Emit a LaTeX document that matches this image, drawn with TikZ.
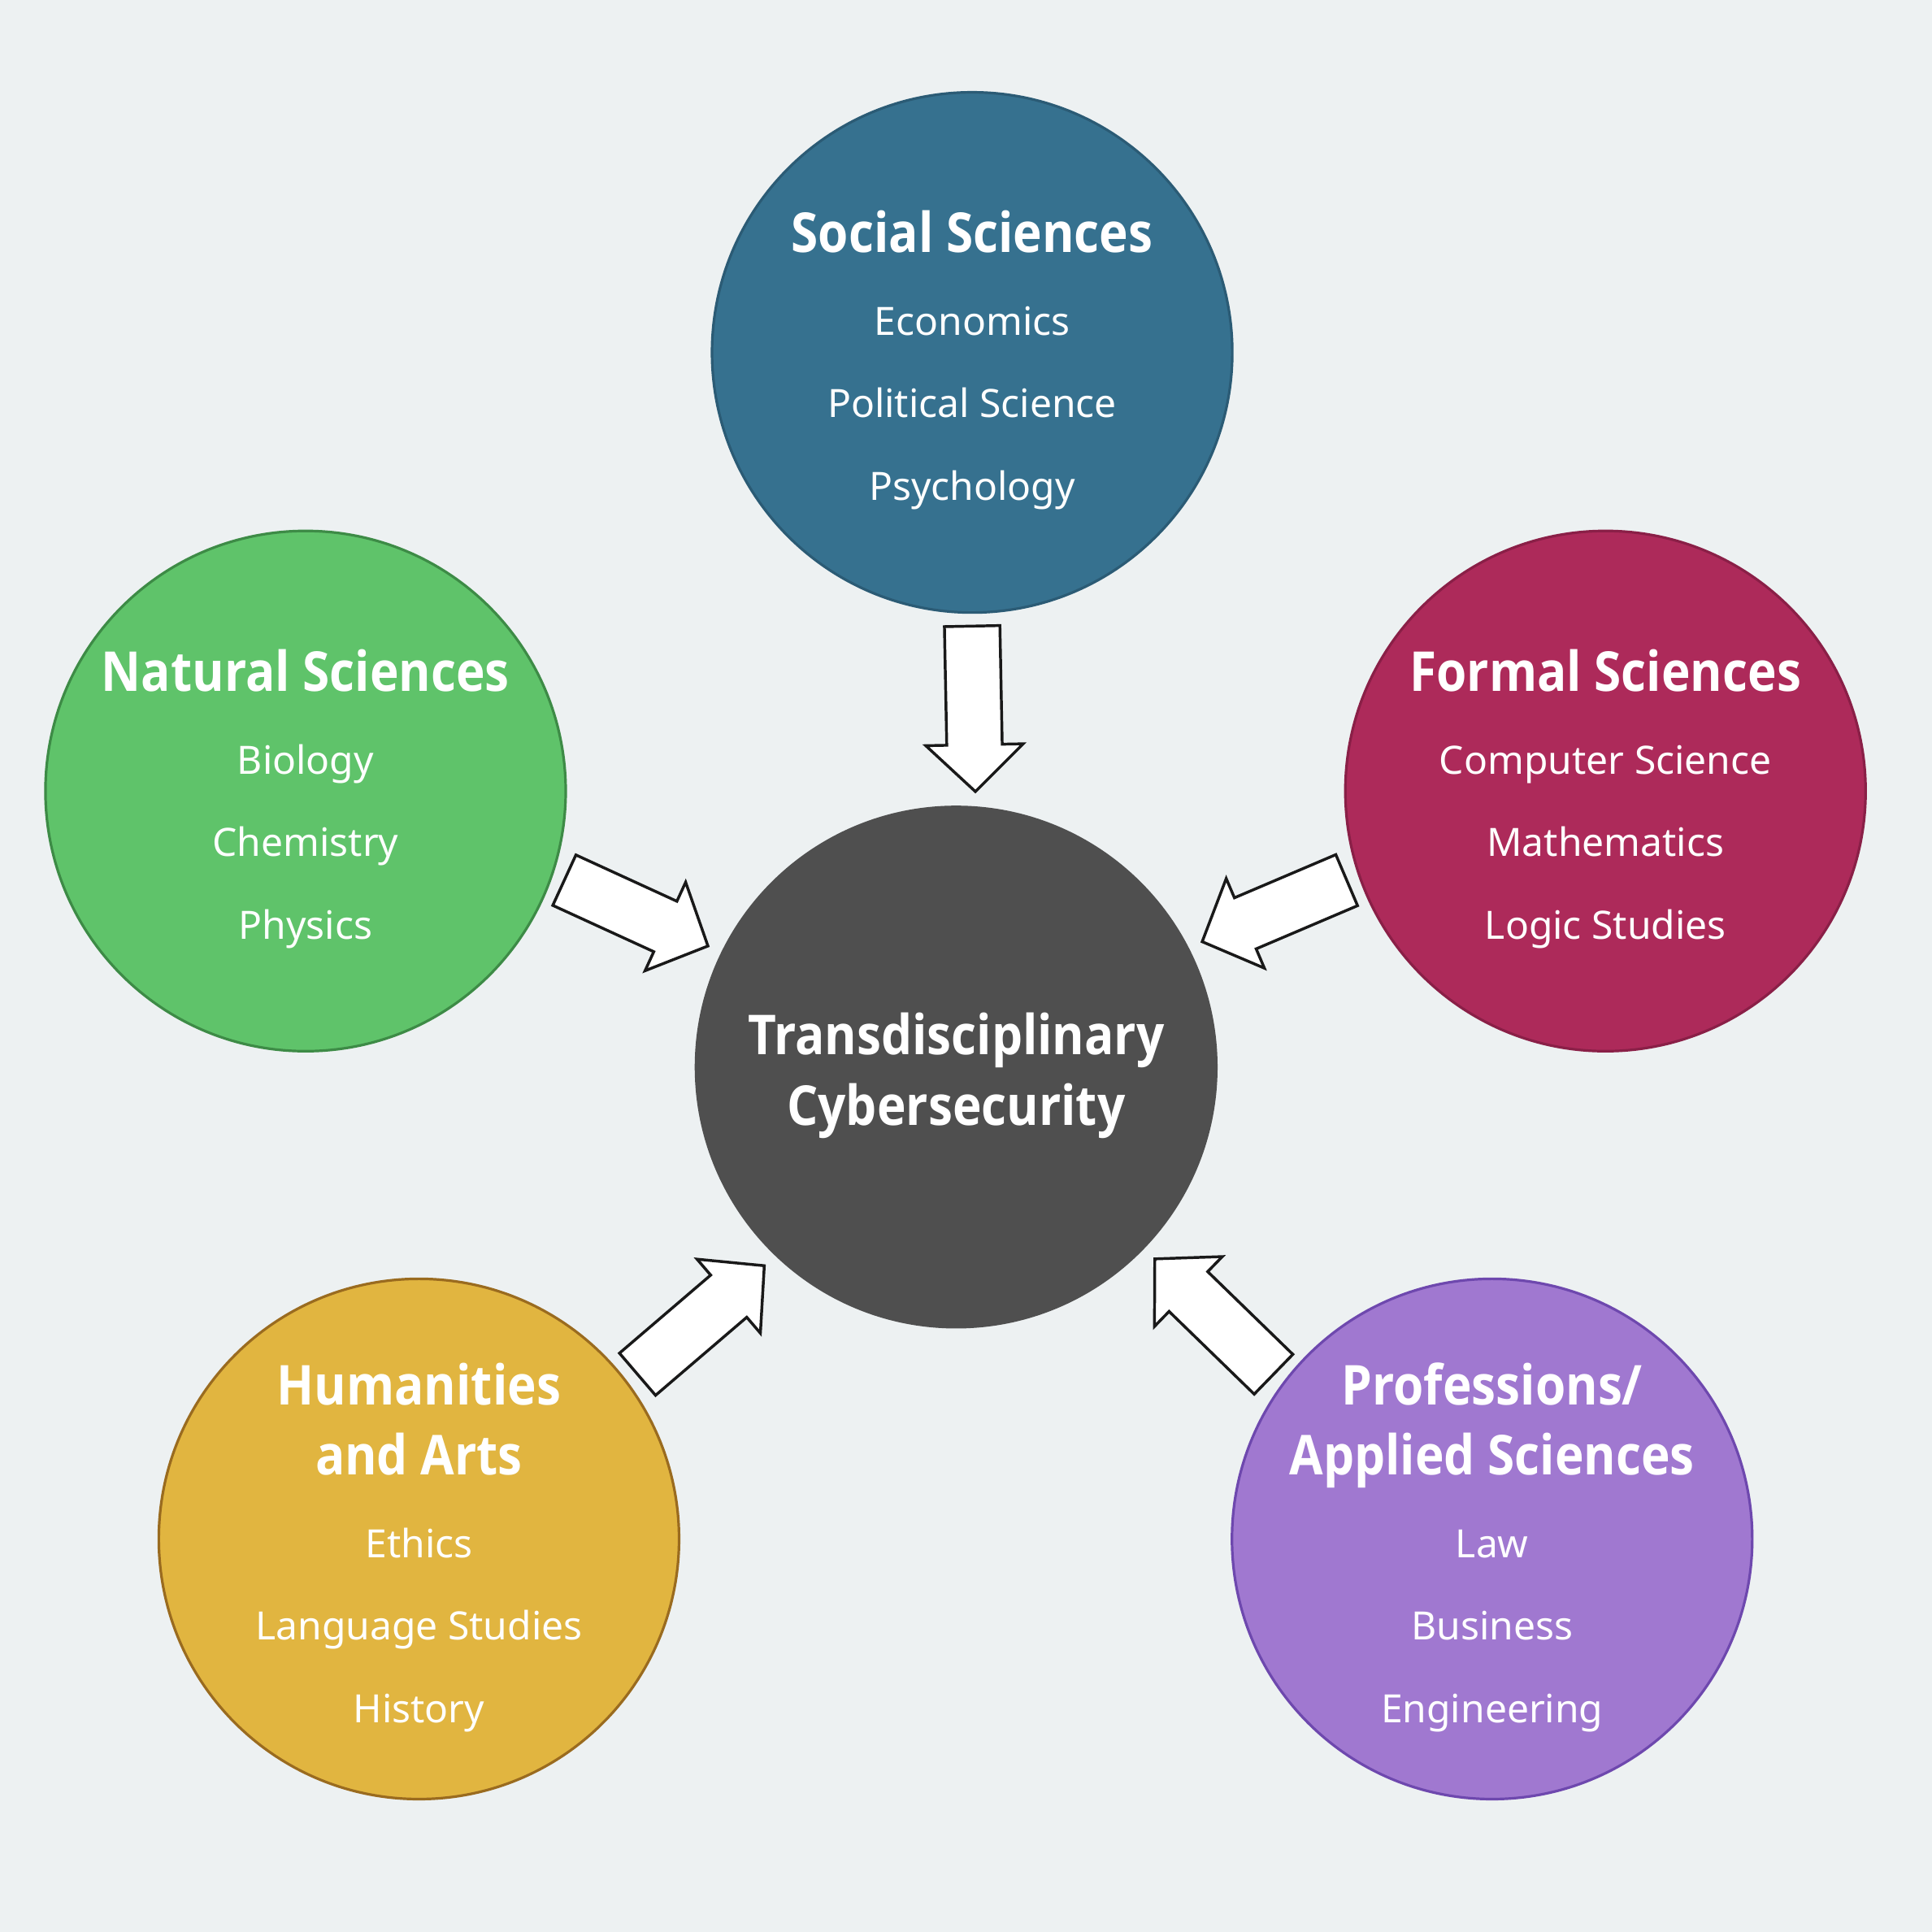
\documentclass[tikz,border=0pt]{standalone}
\usepackage{fontspec}
\setmainfont{Noto Sans}
\newfontfamily\headfont{Open Sans}[FakeStretch=0.89]
\usetikzlibrary{calc}

\definecolor{bgc}{HTML}{EDF1F2}
\definecolor{socialc}{HTML}{36718F}
\definecolor{naturalc}{HTML}{5FC36A}
\definecolor{formalc}{HTML}{AD2A5A}
\definecolor{humanc}{HTML}{E1B540}
\definecolor{profc}{HTML}{A078D0}
\definecolor{corec}{HTML}{4F4F4F}

% block arrow from rim angle #2 of #1 to rim angle #4 of #3
\newcommand{\feedarrow}[4]{%
  \draw[feed arrow] let \p1=($(#1.center)!2.22cm!(#1.#2)$),
    \p2=($(#3.center)!2.24cm!(#3.#4)$),
    \p3=($(\p2)!0.38cm!(\p1)$) in
    ($(\p1)!0.225cm!90:(\p2)$) -- ($(\p3)!0.225cm!90:(\p2)$)
    -- ($(\p3)!0.395cm!90:(\p2)$) -- (\p2)
    -- ($(\p3)!0.395cm!-90:(\p2)$) -- ($(\p3)!0.225cm!-90:(\p2)$)
    -- ($(\p1)!0.225cm!-90:(\p2)$) -- cycle;}

\begin{document}
\begin{tikzpicture}[x=0.01cm,y=-0.01cm,
  disc/.style={circle,draw,line width=0.6pt,minimum size=4.22cm,inner sep=0pt},
  discname/.style={anchor=base,text=white,font=\headfont\bfseries\fontsize{12.7}{14}\selectfont},
  subject/.style={anchor=base,text=white,font=\fontsize{9}{11}\selectfont},
  feed arrow/.style={draw=black!90,fill=white,line width=0.65pt,line join=miter}]

  \fill[bgc] (0,0) rectangle (1568,1568);

  \node[disc,fill=socialc,draw={rgb,255:red,43;green,91;blue,117}] (social) at (789,286) {};
  \node[disc,fill=naturalc,draw={rgb,255:red,61;green,139;blue,70}] (natural) at (248,642) {};
  \node[disc,fill=formalc,draw={rgb,255:red,138;green,31;blue,71}] (formal) at (1303,642) {};
  \node[disc,fill=corec,draw=corec] (core) at (776,866) {};
  \node[disc,fill=humanc,draw={rgb,255:red,154;green,107;blue,31}] (humanities) at (340,1249) {};
  \node[disc,fill=profc,draw={rgb,255:red,110;green,72;blue,174}] (professions) at (1211,1249) {};

  % names of the fields
  \node[discname] (socialname) at ($(social)+(0,-81)$) {Social Sciences};
  \node[discname] (naturalname) at ($(natural)+(0,-81)$) {Natural Sciences};
  \node[discname] (formalname) at ($(formal)+(0,-81)$) {Formal Sciences};
  \node[discname] (humanname1) at ($(humanities)+(0,-109)$) {Humanities};
  \node[discname] (humanname2) at ($(humanities)+(0,-52)$) {and Arts};
  \node[discname] (profname1) at ($(professions)+(0,-109)$) {Professions/};
  \node[discname] (profname2) at ($(professions)+(0,-52)$) {Applied Sciences};
  \node[discname] (corename1) at ($(core)+(0,-10)$) {Transdisciplinary};
  \node[discname] (corename2) at ($(core)+(0,47)$) {Cybersecurity};

  % subjects
  \foreach \t [count=\i] in {Economics,Political Science,Psychology}
    \node[subject] (social-\i) at ($(social)+(0,-81+67*\i)$) {\t};
  \foreach \t [count=\i] in {Biology,Chemistry,Physics}
    \node[subject] (natural-\i) at ($(natural)+(0,-81+67*\i)$) {\t};
  \foreach \t [count=\i] in {Computer Science,Mathematics,Logic Studies}
    \node[subject] (formal-\i) at ($(formal)+(0,-81+67*\i)$) {\t};
  \foreach \t [count=\i] in {Ethics,Language Studies,History}
    \node[subject] (humanities-\i) at ($(humanities)+(0,-52+67*\i)$) {\t};
  \foreach \t [count=\i] in {Law,Business,Engineering}
    \node[subject] (professions-\i) at ($(professions)+(0,-52+67*\i)$) {\t};

  \feedarrow{social}{-90}{core}{86.7}
  \feedarrow{natural}{-19.8}{core}{154.7}
  \feedarrow{formal}{199}{core}{27.4}
  \feedarrow{humanities}{37.5}{core}{-134.6}
  \feedarrow{professions}{143.1}{core}{-44.6}
\end{tikzpicture}
\end{document}
